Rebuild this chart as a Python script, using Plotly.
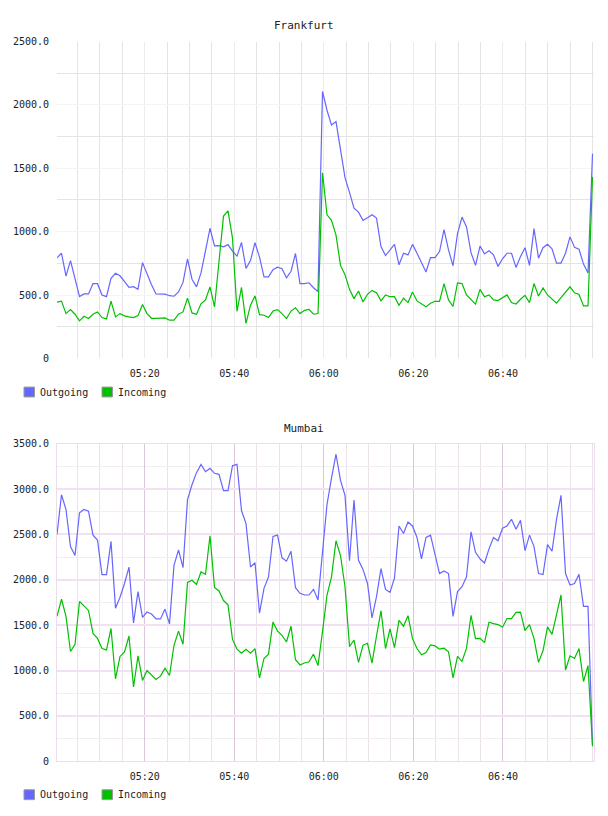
import pandas as pd
import plotly.graph_objects as go

# ---------------- data ----------------
times = pd.date_range("2013-01-01 05:00:25", "2013-01-01 07:00:00", periods=120)

fr_out = [794, 830, 650, 772, 630, 488, 509, 509, 590, 590,
          500, 488, 632, 672, 652, 610, 561, 566, 545, 756,
          668, 582, 509, 509, 507, 495, 491, 525, 600, 786,
          625, 565, 675, 850, 1027, 888, 890, 880, 898, 846,
          807, 916, 710, 772, 913, 800, 644, 644, 700, 720,
          708, 636, 688, 828, 590, 590, 597, 558, 528,
          2106, 1958, 1841, 1868, 1647, 1426, 1310, 1185, 1154, 1089,
          1110, 1133, 1107, 882, 812, 856, 900, 739, 830, 817,
          900, 830, 752, 682, 796, 796, 843, 1016, 856, 731,
          985, 1115, 1037, 835, 734, 887, 825, 850, 817, 726,
          786, 830, 830, 718, 804, 874, 734, 1024, 791, 874,
          900, 864, 752, 752, 830, 959, 876, 861, 744, 674, 1615]

fr_in = [444, 452, 354, 385, 349, 297, 333, 315, 349, 367,
         323, 312, 452, 328, 354, 336, 328, 323, 338, 426,
         354, 317, 317, 317, 320, 302, 302, 349, 367, 476,
         359, 349, 431, 462, 565, 406, 780, 1123, 1164, 949,
         372, 560, 277, 420, 494, 346, 341, 323, 374, 385,
         354, 315, 374, 400, 354, 380, 387, 349, 354,
         1465, 1133, 1089, 973, 734, 661, 545, 472, 532, 446,
         506, 537, 518, 454, 501, 487, 487, 420, 475, 441,
         524, 454, 428, 407, 436, 451, 451, 591, 462, 410,
         596, 591, 501, 462, 428, 545, 487, 501, 462, 457,
         480, 501, 441, 430, 467, 498, 441, 591, 493, 557,
         501, 467, 436, 480, 524, 565, 518, 505, 415, 415, 1432]

mb_out = [2500, 2938, 2775, 2366, 2268, 2739, 2775, 2757, 2493, 2438,
          2058, 2058, 2424, 1688, 1808, 1960, 2141, 1526, 1870, 1587,
          1645, 1623, 1569, 1569, 1678, 1515, 2159, 2330, 2134, 2884,
          3047, 3181, 3272, 3192, 3228, 3174, 3163, 2982, 2982, 3257,
          3272, 2764, 2620, 2141, 2188, 1634, 1906, 2033, 2479, 2493,
          2243, 2206, 2315, 1913, 1852, 1833, 1833, 1895, 1779,
          2301, 2830, 3120, 3384, 3095, 2930, 2212, 2880, 2215, 2115,
          1960, 1580, 1815, 2123, 1895, 1862, 2022, 2594, 2511, 2638,
          2594, 2467, 2232, 2467, 2493, 2279, 2069, 2098, 2069, 1598,
          1870, 1924, 2033, 2529, 2304, 2232, 2185, 2341, 2467, 2431,
          2569, 2594, 2667, 2558, 2656, 2322, 2493, 2366, 2069, 2058,
          2388, 2315, 2667, 2931, 2069, 1942, 1960, 2062, 1707, 1707, 175]

mb_in = [1598, 1786, 1598, 1210, 1290, 1761, 1714, 1663, 1410, 1355,
         1243, 1228, 1464, 910, 1156, 1207, 1381, 819, 1163, 892,
         1000, 946, 902, 939, 1026, 946, 1279, 1435, 1290, 1971,
         1996, 1949, 2087, 2062, 2486, 1917, 1877, 1772, 1725, 1344,
         1236, 1192, 1236, 1192, 1243, 920, 1134, 1181, 1536, 1435,
         1388, 1315, 1489, 1120, 1062, 1084, 1098, 1181, 1055,
         1430, 1833, 2033, 2431, 2268, 1924, 1265, 1337, 1091, 1279,
         1301, 1083, 1381, 1660, 1243, 1460, 1254, 1554, 1489, 1605,
         1352, 1243, 1174, 1199, 1283, 1272, 1236, 1247, 1207, 920,
         1156, 1102, 1247, 1609, 1352, 1355, 1308, 1533, 1518, 1507,
         1478, 1573, 1573, 1641, 1645, 1442, 1507, 1352, 1091, 1218,
         1482, 1399, 1616, 1833, 1007, 1163, 1134, 1243, 880, 1055, 167]

x_tickvals = ["2013-01-01 05:20", "2013-01-01 05:40", "2013-01-01 06:00",
              "2013-01-01 06:20", "2013-01-01 06:40"]
x_ticktext = ["05:20", "05:40", "06:00", "06:20", "06:40"]
x_range = ["2013-01-01 05:00:25", "2013-01-01 07:00:20"]

fr_yvals = [0, 500, 1000, 1500, 2000, 2500]
fr_ytext = ["0", "500.0", "1000.0", "1500.0", "2000.0", "2500.0"]
mb_yvals = [0, 500, 1000, 1500, 2000, 2500, 3000, 3500]
mb_ytext = ["0", "500.0", "1000.0", "1500.0", "2000.0", "2500.0", "3000.0", "3500.0"]

series_names = ["Outgoing", "Incoming"]
series_colors = ["#6666ff", "#00c000"]

# ---------------- figure ----------------
W, H = 608, 816
MONO = "DejaVu Sans Mono"
tickfont = dict(family=MONO, size=10, color="#222222")

def py(px):
    return 1 - px / H

def px_x(px):
    return px / W

fig = go.Figure()
for xa, ya, data in [("x", "y", (fr_out, fr_in)), ("x2", "y2", (mb_out, mb_in))]:
    for name, color, vals in zip(series_names, series_colors, data):
        fig.add_trace(go.Scatter(x=times, y=vals, xaxis=xa, yaxis=ya, mode="lines",
                                 name=name, showlegend=False,
                                 line=dict(color=color, width=1.2),
                                 hoverinfo="x+y+name"))

xdom = [px_x(57), px_x(594)]

def xaxis(anchor, major, minor, line=None):
    d = dict(domain=xdom, anchor=anchor, type="date", range=x_range,
             tickvals=x_tickvals, ticktext=x_ticktext, tickfont=tickfont,
             ticks="outside", ticklen=6, tickcolor="rgba(0,0,0,0)",
             showgrid=True, gridcolor=major, gridwidth=1,
             minor=dict(dtick=300000, tick0="2013-01-01 05:00:00",
                        showgrid=True, gridcolor=minor, gridwidth=1),
             zeroline=False, fixedrange=True)
    if line:
        d.update(showline=True, linecolor=line, linewidth=1, mirror=True)
    else:
        d.update(showline=False)
    return d

def yaxis(anchor, dom, rng, vals, text, major, minor, line=None, mwidth=1):
    d = dict(domain=dom, anchor=anchor, range=rng, tickvals=vals, ticktext=text,
             tickfont=tickfont, ticks="outside", ticklen=5,
             tickcolor="rgba(0,0,0,0)",
             showgrid=True, gridcolor=major, gridwidth=mwidth,
             minor=dict(dtick=250, tick0=0, showgrid=True, gridcolor=minor, gridwidth=1),
             zeroline=False, fixedrange=True)
    if line:
        d.update(showline=True, linecolor=line, linewidth=1, mirror=True)
    else:
        d.update(showline=False)
    return d

fig.update_layout(
    width=W, height=H, autosize=False,
    margin=dict(l=0, r=0, t=0, b=0),
    paper_bgcolor="white", plot_bgcolor="white",
    xaxis=xaxis("y", "#ececec", "#e4e4e4"),
    yaxis=yaxis("x", [py(358.3), py(37)], [0, 2500], fr_yvals, fr_ytext,
                "#f4f4f4", "#e4e4e4"),
    xaxis2=xaxis("y2", "#dcc6dc", "#ece2ec", line="#ecdcec"),
    yaxis2=yaxis("x2", [py(766.7), py(444.7)], [0, 3500], mb_yvals, mb_ytext,
                 "#f0e2f0", "#f2eef2", line="#ecdcec", mwidth=2),
    showlegend=False,
)

annotations = [
    dict(text="Frankfurt", x=304 / W, y=py(20.5), xref="paper", yref="paper",
         xanchor="center", yanchor="middle", showarrow=False,
         font=dict(family=MONO, size=11, color="#222222")),
    dict(text="Mumbai", x=304 / W, y=py(429), xref="paper", yref="paper",
         xanchor="center", yanchor="middle", showarrow=False,
         font=dict(family=MONO, size=11, color="#222222")),
]
shapes = []
for cy in (392.3, 800.5):
    for (sx, tx), name, color in zip([(24, 38), (102, 116)], series_names, series_colors):
        shapes.append(dict(type="rect", xref="paper", yref="paper",
                           x0=sx / W, x1=(sx + 10.5) / W, y0=py(cy - 5), y1=py(cy + 5),
                           fillcolor=color, line=dict(color="#999999", width=1)))
        annotations.append(dict(text=name, x=tx / W, y=py(cy), xref="paper", yref="paper",
                                xanchor="left", yanchor="middle", showarrow=False,
                                font=dict(family=MONO, size=10, color="#222222")))

fig.update_layout(annotations=annotations, shapes=shapes)
fig.write_html("out.html")
